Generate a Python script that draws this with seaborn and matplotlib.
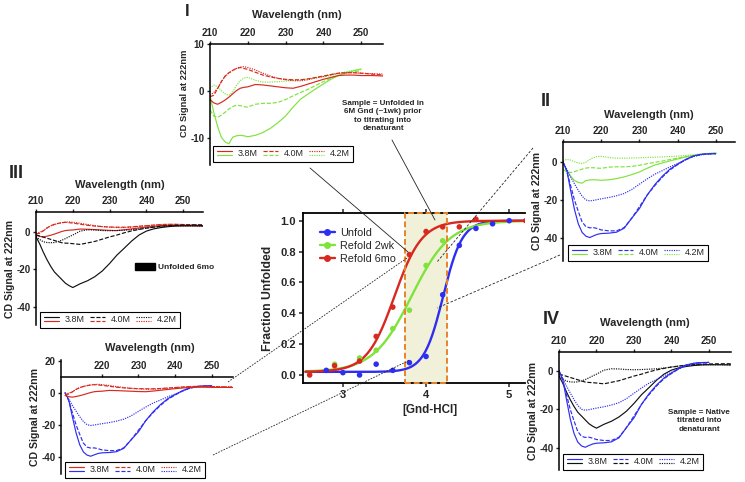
import numpy as np
import matplotlib
matplotlib.use('Agg')
import matplotlib.pyplot as plt
import seaborn as sns
from matplotlib.lines import Line2D
from matplotlib.patches import Rectangle, Patch
from matplotlib.legend_handler import HandlerBase

sns.set_theme(style='ticks')
plt.rcParams['font.family'] = ['Liberation Sans', 'DejaVu Sans']
plt.rcParams['font.weight'] = 'bold'
plt.rcParams['axes.labelweight'] = 'bold'
plt.rcParams['axes.unicode_minus'] = False

W, H = 745, 482

# titration: fraction unfolded vs [Gnd-HCl]
gnd_unfold = [2.8, 3.0, 3.2, 3.4, 3.6, 3.8, 4.0, 4.2, 4.4, 4.6, 4.8, 5.0]
frac_unfold = [0.03, 0.015, 0.0, 0.07, 0.03, 0.08, 0.12, 0.52, 0.84, 0.95, 0.98, 1.0]
gnd_2wk = [2.9, 3.2, 3.4, 3.6, 3.8, 4.0, 4.2]
frac_2wk = [0.07, 0.11, 0.16, 0.30, 0.42, 0.71, 0.87]
gnd_6mo = [2.6, 2.9, 3.2, 3.4, 3.6, 3.8, 4.0, 4.2, 4.4, 4.6, 5.2]
frac_6mo = [0.0, 0.06, 0.09, 0.25, 0.44, 0.78, 0.93, 0.96, 0.96, 1.01, 1.0]

# CD spectra (wavelength nm)
wl_a = [210, 211, 212, 213, 214, 215, 216, 217, 218, 219, 220, 222, 224, 226,
        228, 230, 232, 234, 236, 238, 240, 242, 244, 246, 248, 250]
wl_b = wl_a + [253, 256]

green_38 = [-1.0, -4.5, -7.5, -9.8, -10.8, -11.2, -9.8, -9.5, -9.4, -9.5, -9.7, -9.4, -8.8, -7.9,
            -6.7, -5.3, -3.4, -1.7, -0.6, 0.5, 1.5, 2.5, 3.3, 3.9, 4.3, 4.7]
green_40 = [-4.0, -5.3, -5.6, -5.1, -4.5, -3.8, -3.3, -3.0, -3.1, -3.3, -3.4, -2.8, -2.6, -2.6,
            -2.4, -1.8, -1.0, -0.3, 0.4, 1.2, 2.0, 2.7, 3.3, 3.8, 4.1, 4.3]
green_42 = [0.6, 1.3, 0.9, 0.1, -0.6, -0.9, -0.2, 1.2, 2.2, 2.8, 2.9, 2.3, 1.9, 1.9,
            2.0, 2.1, 2.3, 2.4, 2.6, 2.8, 3.0, 3.3, 3.7, 4.1, 4.4, 4.6]

blue_38 = [0.0, -4.5, -15.0, -25.0, -32.5, -37.0, -39.0, -39.7, -38.8, -38.0, -37.6, -37.4, -36.9, -34.8,
           -29.5, -24.5, -17.5, -12.0, -7.5, -3.8, -1.2, 1.2, 3.0, 3.9, 4.2, 4.3]
blue_40 = [0.0, -5.0, -12.5, -20.0, -26.0, -31.5, -34.0, -34.6, -34.5, -35.0, -35.7, -36.2, -36.2, -34.5,
           -29.5, -23.5, -17.5, -12.5, -8.0, -4.2, -1.5, 1.0, 2.8, 3.8, 4.2, 4.3]
blue_42 = [0.0, -4.0, -8.0, -11.5, -15.0, -18.0, -20.0, -20.5, -20.2, -19.8, -19.4, -18.7, -17.8, -16.6,
           -14.5, -11.7, -9.0, -6.5, -4.6, -2.6, -0.9, 1.0, 2.7, 3.6, 4.1, 4.3]

red_38 = [-1.8, -2.5, -2.8, -2.4, -1.9, -1.3, -0.6, 0.1, 0.6, 0.8, 0.9, 1.4, 1.3, 1.1,
          0.9, 0.7, 0.6, 1.0, 1.5, 2.0, 2.5, 2.9, 3.3, 3.4, 3.4, 3.3, 3.3, 3.2]
red_40 = [-1.2, -0.9, 0.5, 2.0, 3.2, 3.9, 4.4, 4.8, 5.0, 4.8, 4.6, 4.0, 3.4, 3.0,
          2.7, 2.5, 2.4, 2.4, 2.6, 2.9, 3.2, 3.5, 3.8, 3.9, 3.9, 3.8, 3.6, 3.4]
red_42 = [-0.9, -0.3, 0.6, 2.0, 3.1, 3.8, 4.4, 4.8, 5.1, 5.2, 5.0, 4.5, 3.8, 3.2,
          2.7, 2.4, 2.2, 2.2, 2.4, 2.8, 3.1, 3.5, 3.8, 3.9, 3.9, 3.8, 3.7, 3.6]

black_38 = [-2.7, -6.5, -11.0, -15.0, -18.5, -21.5, -23.5, -25.5, -27.5, -28.8, -29.8, -27.8, -26.2, -24.0,
            -21.0, -17.0, -12.5, -8.8, -5.0, -1.8, 0.3, 1.5, 2.2, 2.7, 3.0, 3.1, 3.1, 3.0]
black_40 = [-1.8, -2.3, -2.9, -3.5, -4.1, -4.7, -5.3, -5.9, -6.1, -6.2, -6.4, -6.8, -6.0, -5.2,
            -4.0, -2.8, -1.8, -0.6, 0.4, 1.2, 1.9, 2.4, 2.9, 3.2, 3.4, 3.5, 3.6, 3.6]
black_42 = [-2.7, -4.2, -5.4, -5.8, -5.9, -5.8, -5.3, -4.6, -3.7, -2.7, -1.8, 0.3, 1.0, 0.9,
            0.6, 0.5, 0.6, 0.8, 1.0, 1.4, 1.9, 2.4, 2.8, 3.0, 3.1, 3.1, 3.1, 3.0]

conc_labels = ['3.8M', '4.0M', '4.2M']

colors = {'blue': '#2e2ef2', 'green': '#7fe33c', 'red': '#d8281f', 'black': '#111111'}
spectra = {
    'green': (wl_a, [green_38, green_40, green_42]),
    'blue': (wl_a, [blue_38, blue_40, blue_42]),
    'red': (wl_b, [red_38, red_40, red_42]),
    'black': (wl_b, [black_38, black_40, black_42]),
}
styles = ['-', (0, (3.5, 1.5)), (0, (1, 1))]


def rect(l, t, r, b):
    return [l / W, 1 - b / H, (r - l) / W, (b - t) / H]


def fit_sigmoid(x, y):
    # least squares Boltzmann fit, top fixed at 1, small baseline allowed
    x = np.asarray(x, float)
    y = np.asarray(y, float)
    best = None
    for m in np.arange(3.0, 4.6, 0.005):
        for s in np.arange(0.04, 0.4, 0.005):
            f = 1 / (1 + np.exp((m - x) / s))
            g = 1 - f
            b = np.clip(np.dot(g, y - f) / np.dot(g, g), 0.0, 0.02)
            err = np.sum((b + (1 - b) * f - y) ** 2)
            if best is None or err < best[0]:
                best = (err, m, s, b)
    return best[1:]


class PairHandler(HandlerBase):
    def create_artists(self, legend, orig_handle, xdescent, ydescent, width, height, fontsize, trans):
        out = []
        for k, h in enumerate(orig_handle):
            yy = (0.8 - 0.55 * k) * height - ydescent
            ln = Line2D([-xdescent, width - xdescent], [yy, yy])
            ln.update_from(h)
            ln.set_transform(trans)
            out.append(ln)
        return out


fig = plt.figure(figsize=(W / 100, H / 100), dpi=100)

# ---------------- main titration plot ----------------
ml, mt, mr, mb = 303, 213, 525, 383
ax = fig.add_axes(rect(ml, mt, mr, mb))
ax.set_xlim(2.52, 5.19)
ax.set_ylim(-0.052, 1.05)
ax.axvspan(3.75, 4.25, facecolor='#f1f1da', edgecolor='none', zorder=0)
ax.add_patch(Rectangle((3.75, -0.052), 0.5, 1.102, fill=False, edgecolor='#e8842c',
                       linestyle=(0, (3, 1.5)), lw=1.4, zorder=4, clip_on=False))

xfit = np.linspace(2.55, 5.2, 300)
series = [('Unfold', gnd_unfold, frac_unfold, colors['blue']),
          ('Refold 2wk', gnd_2wk, frac_2wk, colors['green']),
          ('Refold 6mo', gnd_6mo, frac_6mo, colors['red'])]
handles = []
for name, xs, ys, c in series:
    m, s, b = fit_sigmoid(xs, ys)
    yfit = b + (1 - b) / (1 + np.exp((m - xfit) / s))
    sns.lineplot(x=xfit, y=yfit, color=c, lw=1.7, ax=ax, zorder=2)
    sns.scatterplot(x=xs, y=ys, color=c, s=16, edgecolor='none', ax=ax, zorder=3, legend=False)
    handles.append(Line2D([], [], color=c, lw=1.7, marker='o', markersize=4))

ax.legend(handles, [s_[0] for s_ in series], loc='upper left', bbox_to_anchor=(0.05, 0.945),
          frameon=False, borderpad=0, handlelength=1.4, handletextpad=0.5, labelspacing=0.3,
          prop={'weight': 'normal', 'size': 7.8})
ax.set_xticks([3, 4, 5])
ax.set_yticks([0, 0.2, 0.4, 0.6, 0.8, 1.0])
ax.set_yticklabels(['0.0', '0.2', '0.4', '0.6', '0.8', '1.0'])
ax.tick_params(axis='both', labelsize=8, direction='out', length=3, width=1.1, pad=2)
ax.tick_params(axis='x', top=True, labeltop=False)
for side in ['left', 'bottom', 'top']:
    ax.spines[side].set_linewidth(1.3)
    ax.spines[side].set_color('black')
ax.spines['right'].set_visible(False)
ax.set_xlabel('[Gnd-HCl]', fontsize=8.4)
ax.set_ylabel('Fraction Unfolded', fontsize=8.8)
ax.xaxis.set_label_coords(0.572, -0.125)
ax.yaxis.set_label_coords(-0.13, 0.5)

# ---------------- CD spectra insets ----------------
insets = [
    dict(tag='I', box=(210, 44, 383, 165), xlim=(210, 255.8), ylim=(-15.7, 10), yticks=[10, 0, -10],
         xticks=[210, 220, 230, 240, 250], groups=['red', 'green'], leg=(213, 162), lab_y=12,
         ylab_size=6.7, ylab_y=93.5, tag_xy=(187, 12), tag_size=12, spine_y=None),
    dict(tag='II', box=(563, 142, 735, 261), xlim=(210, 255), ylim=(-52, 10.4), yticks=[0, -20, -40],
         xticks=[210, 220, 230, 240, 250], groups=['blue', 'green'], leg=(568, 261), lab_y=112,
         ylab_size=7.6, ylab_y=None, tag_xy=(546, 101), tag_size=13, spine_y=None),
    dict(tag='III', box=(36, 212, 203, 325), xlim=(210, 255.4), ylim=(-49.8, 10.5), yticks=[0, -20, -40],
         xticks=[210, 220, 230, 240, 250], groups=['black', 'red'], leg=(40, 328), lab_y=182,
         ylab_size=7.6, ylab_y=None, tag_xy=(16, 174), tag_size=13, spine_y=None),
    dict(tag='IV', box=(559, 352, 731, 470), xlim=(210, 255.9), ylim=(-51.5, 9.7), yticks=[0, -20, -40],
         xticks=[210, 220, 230, 240, 250], groups=['blue', 'black'], leg=(563, 470), lab_y=320,
         ylab_size=7.6, ylab_y=None, tag_xy=(551, 320), tag_size=13, spine_y=None),
    dict(tag='', box=(61, 360, 233, 474), xlim=(208.9, 255.8), ylim=(-50.8, 20.4), yticks=[20, 0, -20, -40],
         xticks=[220, 230, 240, 250], groups=['red', 'blue'], leg=(65, 478), lab_y=345,
         ylab_size=7.6, ylab_y=None, tag_xy=None, tag_size=12, spine_y=10),
]

for cfg in insets:
    l, t, r, b = cfg['box']
    wpx, hpx = r - l, b - t
    a = fig.add_axes(rect(l, t, r, b))
    a.set_facecolor('white')
    a.set_xlim(*cfg['xlim'])
    a.set_ylim(*cfg['ylim'])
    # draw second group first so the first sits on top
    for grp in cfg['groups'][::-1]:
        xs, curves = spectra[grp]
        for vals, ls in zip(curves, styles):
            sns.lineplot(x=xs, y=vals, color=colors[grp], lw=0.85, linestyle=ls, ax=a)
    a.xaxis.tick_top()
    a.xaxis.set_label_position('top')
    a.set_xticks(cfg['xticks'])
    a.set_yticks(cfg['yticks'])
    a.tick_params(axis='both', labelsize=7, direction='out', length=2.5, width=1, pad=1.5)
    a.spines['bottom'].set_visible(False)
    a.spines['right'].set_visible(False)
    for side in ['left', 'top']:
        a.spines[side].set_linewidth(1.1)
        a.spines[side].set_color('black')
    if cfg['spine_y'] is not None:
        a.spines['top'].set_position(('data', cfg['spine_y']))
    a.set_xlabel('Wavelength (nm)', fontsize=8)
    lab_x = 0.5 if cfg['tag'] else (150 - l) / wpx
    a.xaxis.set_label_coords(lab_x, (b - (cfg['lab_y'] + 6)) / hpx)
    a.set_ylabel('CD Signal at 222nm', fontsize=cfg['ylab_size'])
    ylab_y = 0.5 if cfg['ylab_y'] is None else (b - cfg['ylab_y']) / hpx
    a.yaxis.set_label_coords(-21 / wpx, ylab_y)

    top, bot = cfg['groups']
    leg_handles = []
    for ls in styles:
        leg_handles.append((Line2D([], [], color=colors[top], lw=0.85, linestyle=ls),
                            Line2D([], [], color=colors[bot], lw=0.85, linestyle=ls)))
    lx, ly = cfg['leg']
    a.legend(leg_handles, conc_labels, handler_map={tuple: PairHandler()}, ncol=3,
             loc='lower left', bbox_to_anchor=((lx - l) / wpx, (b - ly) / hpx), borderaxespad=0,
             frameon=True, fancybox=False, edgecolor='black', framealpha=1, borderpad=0.4,
             handlelength=1.7, handletextpad=0.6, columnspacing=0.6, handleheight=0.9,
             prop={'weight': 'normal', 'size': 6.5})
    a.get_legend().get_frame().set_linewidth(0.8)
    if cfg['tag']:
        fig.text(cfg['tag_xy'][0] / W, 1 - cfg['tag_xy'][1] / H, cfg['tag'], fontsize=cfg['tag_size'],
                 fontweight='bold', ha='center', va='center')
    if cfg['tag'] == 'III':
        extra = a.get_legend()
        a.add_artist(extra)
        a.legend([Patch(facecolor='black', edgecolor='black')], ['Unfolded 6mo'], loc='center left',
                 bbox_to_anchor=(131 / W, 1 - 267 / H), bbox_transform=fig.transFigure, frameon=False,
                 handlelength=2.4, handleheight=1.0, handletextpad=0.3, borderpad=0,
                 prop={'weight': 'bold', 'size': 6})

# notes
fig.text(383 / W, 1 - 116 / H, 'Sample = Unfolded in\n6M Gnd (~1wk) prior\nto titrating into\ndenaturant',
         fontsize=5.8, fontweight='bold', ha='center', va='center', linespacing=1.3)
fig.text(699 / W, 1 - 421 / H, 'Sample = Native\ntitrated into\ndenaturant',
         fontsize=5.8, fontweight='bold', ha='center', va='center', linespacing=1.3)

# connector lines between the insets and the titration curve
connectors = [((392, 140), (435, 220), '-'),
              ((310, 168), (408, 252), '-'),
              ((533, 148), (437, 262), (0, (3, 2))),
              ((560, 255), (437, 308), (0, (3, 2))),
              ((228, 382), (407, 258), (0, (2, 1.5))),
              ((213, 455), (410, 360), (0, (2, 1.5)))]
for (x1, y1), (x2, y2), ls in connectors:
    fig.add_artist(Line2D([x1 / W, x2 / W], [1 - y1 / H, 1 - y2 / H], transform=fig.transFigure,
                          color='#222222', lw=0.6, linestyle=ls, zorder=5))

fig.savefig('out.png', dpi=100)
